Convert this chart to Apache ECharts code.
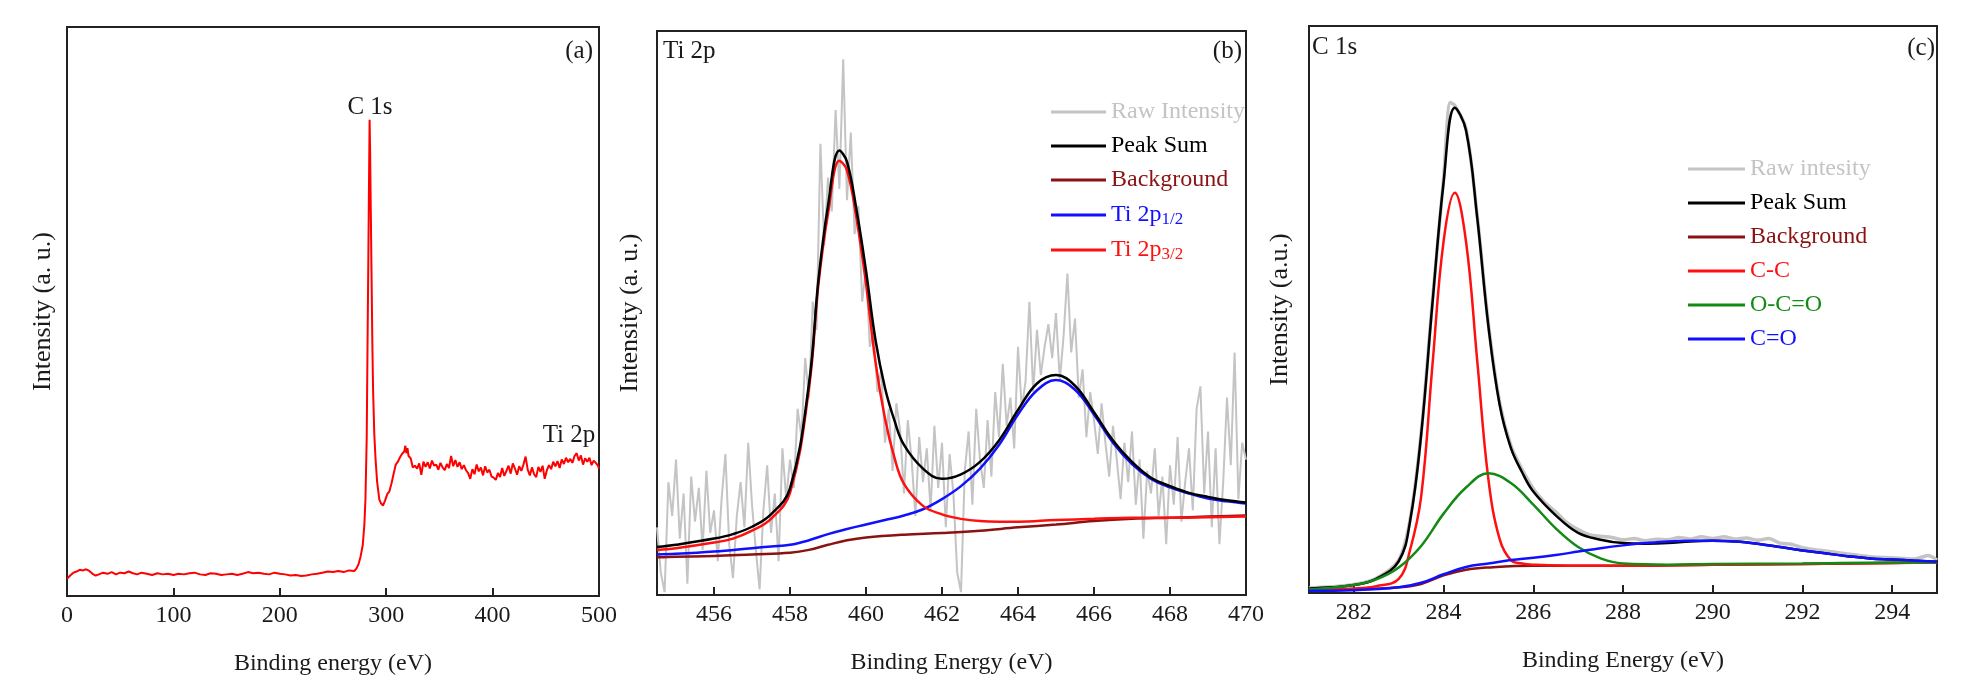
<!DOCTYPE html>
<html>
<head>
<meta charset="utf-8">
<script src="https://cdn.jsdelivr.net/npm/echarts@6/dist/echarts.min.js"></script>
<style>
html,body{margin:0;padding:0;background:#fff;}
#chart{width:1970px;height:683px;}
</style>
</head>
<body>
<div id="chart"></div>
<script>
// ---------------- DATA ----------------
// Panel (a): survey spectrum [binding energy eV, intensity a.u.]
const surveyPoints = [
[0,3.0],[3,3.6],[6,4.1],[9,4.3],[12,4.6],[15,4.5],[18,4.7],[21,4.4],[24,3.9],[27,3.6],
[30,3.8],[34,4.1],[38,3.9],[42,4.2],[46,3.8],[50,4.1],[54,4.0],[58,4.3],[62,4.0],[66,3.8],
[70,4.1],[75,3.9],[80,3.7],[85,4.0],[90,3.8],[95,3.9],[100,3.7],[105,3.9],[110,3.8],[115,4.0],
[120,4.1],[125,3.8],[130,3.7],[135,4.0],[140,3.9],[145,3.7],[150,3.8],[155,3.9],[160,3.7],[165,3.9],
[170,4.2],[175,4.0],[180,4.1],[185,3.9],[190,3.8],[195,4.1],[200,3.9],[205,3.8],[210,3.6],[215,3.7],
[220,3.5],[225,3.6],[230,3.8],[235,3.9],[240,4.1],[245,4.3],[250,4.2],[255,4.4],[260,4.2],[265,4.5],
[270,4.4],[272,4.8],[274,5.6],[276,7.0],[278,9.0],[279.5,12.6],[280.5,17],[281.7,28],[282.5,45],[283.2,59],
[283.8,72],[284.4,83.7],[284.9,78],[285.5,68],[286.2,57],[287,44],[287.7,36],[288.8,28.5],[290,24],[291.5,20],
[293.5,17],[295,16.3],[297,15.9],[299,16.8],[301,17.9],[303,18.4],[305,19.8],[307,21.5],[309,23.1],[311,23.6],
[313,24.4],[315,25.0],[317,25.4],[318,26.4],[319,25.1],[320,26.0],[321,24.6],[323,24.2],[325,22.6],[327,22.9],
[329,22.4],[331,23.3],[333,21.3],[335,23.6],[337,22.7],[339,23.5],[341,22.4],[343,23.8],[345,22.9],[347,23.1],
[349,22.2],[351,23.4],[353,22.6],[355,22.1],[357,23.2],[359,22.5],[361,24.6],[363,22.8],[365,23.9],[367,22.7],
[369,23.5],[371,22.3],[373,23.0],[375,22.1],[377,21.6],[379,20.6],[381,22.3],[383,21.4],[385,23.1],[387,21.9],
[389,22.6],[391,21.2],[393,22.8],[395,21.7],[397,22.2],[399,21.0],[401,20.8],[403,20.4],[405,21.6],[407,20.9],
[409,22.5],[411,21.1],[413,22.0],[415,22.9],[417,21.5],[419,23.3],[421,22.4],[423,21.3],[425,22.8],[427,22.0],
[429,23.1],[431,24.5],[433,22.2],[435,21.2],[437,22.6],[439,21.4],[441,20.9],[443,22.7],[445,21.8],[447,22.9],
[449,20.6],[451,22.1],[453,23.0],[455,22.3],[457,23.6],[459,22.8],[461,23.7],[463,22.5],[465,24.0],[467,23.2],
[469,24.3],[471,23.5],[473,24.1],[475,23.4],[477,24.6],[479,25.1],[481,23.8],[483,24.7],[485,23.1],[487,24.2],
[489,23.6],[491,24.3],[493,23.0],[495,23.8],[497,23.4],[499,22.9],[500,22.4]
];

// Panel (b): Ti 2p
const tiRaw = [
[454.5,12],[454.6,4],[454.7,0.5],[454.8,20],[454.9,14],[455.0,24],[455.1,10],[455.2,18],[455.3,2],[455.4,21],
[455.5,13],[455.6,19],[455.7,8],[455.8,22],[455.9,11],[456.0,15],[456.1,6],[456.2,17],[456.3,25],[456.4,9],
[456.5,3],[456.6,14],[456.7,20],[456.8,12],[456.9,27],[457.0,16],[457.1,8],[457.2,1],[457.3,15],[457.4,23],
[457.5,11],[457.6,18],[457.7,6],[457.8,26],[457.9,17],[458.0,24],[458.1,19],[458.2,33],[458.3,28],[458.4,42],
[458.5,35],[458.6,52],[458.7,47],[458.8,80],[458.9,62],[459.0,74],[459.1,68],[459.2,86],[459.3,72],[459.4,95],
[459.5,70],[459.6,82],[459.7,64],[459.8,69],[459.9,52],[460.0,58],[460.1,44],[460.2,47],[460.3,36],[460.4,40],
[460.5,27],[460.6,33],[460.7,22],[460.8,34],[460.9,29],[461.0,18],[461.1,31],[461.2,24],[461.3,14],[461.4,28],
[461.5,20],[461.6,26],[461.7,15],[461.8,30],[461.9,19],[462.0,27],[462.1,12],[462.2,25],[462.3,18],[462.4,4],
[462.5,0.5],[462.6,22],[462.7,29],[462.8,16],[462.9,33],[463.0,24],[463.1,19],[463.2,31],[463.3,21],[463.4,36],
[463.5,28],[463.6,41],[463.7,30],[463.8,35],[463.9,26],[464.0,44],[464.1,33],[464.2,38],[464.3,52],[464.4,36],
[464.5,47],[464.6,39],[464.7,44],[464.8,48],[464.9,42],[465.0,50],[465.1,38],[465.2,46],[465.3,57],[465.4,43],
[465.5,49],[465.6,35],[465.7,40],[465.8,28],[465.9,36],[466.0,31],[466.1,25],[466.2,34],[466.3,27],[466.4,21],
[466.5,30],[466.6,24],[466.7,17],[466.8,27],[466.9,20],[467.0,29],[467.1,16],[467.2,24],[467.3,10],[467.4,22],
[467.5,18],[467.6,26],[467.7,14],[467.8,21],[467.9,9],[468.0,23],[468.1,16],[468.2,28],[468.3,13],[468.4,20],
[468.5,26],[468.6,15],[468.7,33],[468.8,37],[468.9,18],[469.0,29],[469.1,12],[469.2,26],[469.3,9],[469.4,20],
[469.5,35],[469.6,23],[469.7,43],[469.8,17],[469.9,27],[470.0,24]
];
const tiPeakSum = [
[454.5,8.5],[455,8.9],[456,10.0],[456.5,10.8],[457,12.1],[457.5,14.3],[458,18.9],[458.5,37.5],[458.75,56],[459,69],
[459.3,78.8],[459.5,76.8],[459.75,68.3],[460,57.5],[460.25,45.2],[460.5,36.7],[460.75,30.9],[461,26.6],[461.5,22.4],[462,20.6],
[462.5,21.4],[463,23.6],[463.5,27.4],[464,32.8],[464.5,37.5],[465,39.0],[465.5,37.1],[466,32.4],[466.5,27.4],[467,23.6],
[467.5,20.8],[468,19.3],[468.5,18.1],[469,17.4],[469.5,16.8],[470,16.4]
];
const tiBackground = [
[454.5,6.7],[455,6.8],[456,6.9],[457,7.2],[458,7.5],[458.5,8.0],[459,8.9],[459.5,9.7],[460,10.2],[461,10.7],
[462,11.0],[463,11.4],[464,12.0],[465,12.5],[466,13.1],[467,13.5],[468,13.7],[469,13.9],[470,14.1]
];
const ti2p12 = [
[454.5,7.2],[455,7.3],[456,7.7],[457,8.3],[457.5,8.6],[458,8.9],[458.5,9.7],[459,10.8],[459.5,11.7],[460,12.5],
[460.5,13.3],[461,14.1],[461.5,15.2],[462,17.0],[462.5,19.3],[463,22.4],[463.5,26.6],[464,32.0],[464.5,36.3],[465,38.1],
[465.5,36.4],[466,32.0],[466.5,27.0],[467,23.2],[467.5,20.6],[468,19.1],[468.5,18.0],[469,17.1],[469.5,16.6],[470,16.2]
];
const ti2p32 = [
[454.5,8.0],[455,8.3],[456,9.3],[456.5,10.0],[457,11.4],[457.5,13.5],[458,18.1],[458.5,36.7],[458.75,55.2],[459,67.6],
[459.3,77.0],[459.5,75.3],[459.75,66.8],[460,55.2],[460.25,41.3],[460.5,31.3],[460.75,24.3],[461,19.7],[461.5,15.8],[462,14.3],
[462.5,13.5],[463,13.1],[463.5,13.0],[464,13.0],[465,13.3],[466,13.5],[467,13.7],[468,13.7],[469,13.8],[470,13.9]
];

// Panel (c): C 1s
const cRaw = [
[281,0.9],[281.5,1.1],[282,1.5],[282.5,2.6],[283,5.8],[283.25,12.8],[283.5,28.2],[283.75,51.4],[284,73.0],[284.15,86.5],
[284.25,86.0],[284.5,81.9],[284.75,66.5],[285,47.4],[285.25,33.6],[285.5,26.0],[285.75,21.8],[286,18.4],[286.25,16.0],[286.5,14.3],
[286.75,12.4],[287,11.2],[287.25,10.3],[287.5,10.0],[287.75,9.8],[288,9.4],[288.25,9.6],[288.5,9.2],[288.75,9.5],[289,9.4],
[289.25,9.8],[289.5,9.5],[289.75,9.9],[290,9.6],[290.25,9.9],[290.5,9.5],[290.75,9.7],[291,9.3],[291.25,9.6],[291.5,8.8],
[291.75,8.6],[292,8.0],[292.5,7.4],[293,6.9],[293.5,6.4],[294,6.2],[294.5,6.0],[294.8,6.6],[295,5.8]
];
const cPeakSum = [
[281,0.8],[281.5,1.0],[282,1.4],[282.5,2.5],[283,5.6],[283.25,12.5],[283.5,27.9],[283.75,50.9],[284,72.4],[284.25,85.6],
[284.5,81.6],[284.75,66.2],[285,47.0],[285.25,33.2],[285.5,25.6],[285.75,21.3],[286,17.9],[286.5,13.7],[287,10.6],[287.5,9.4],
[288,8.8],[288.5,8.7],[289,8.8],[289.5,9.1],[290,9.2],[290.5,9.1],[291,8.7],[291.5,8.1],[292,7.5],[292.5,7.0],
[293,6.5],[293.5,6.1],[294,5.9],[294.5,5.7],[295,5.5]
];
const cBackground = [
[281,0.5],[282,0.6],[283,1.0],[283.5,1.6],[284,3.1],[284.5,4.1],[285,4.5],[286,4.8],[288,4.8],[290,5.0],
[292,5.1],[294,5.3],[295,5.4]
];
const cCC = [
[281,0.6],[282,0.8],[282.5,1.2],[283,2.5],[283.25,7.5],[283.5,17],[283.75,40],[284,62],[284.25,70.6],[284.5,62],
[284.75,41],[285,20],[285.25,9.5],[285.5,5.8],[285.75,5.2],[286,5.0],[287,4.8],[288,4.8],[290,5.0],[292,5.1],[295,5.4]
];
const cOCO = [
[281,0.6],[282,1.4],[282.5,2.4],[283,4.5],[283.5,8.3],[284,14.0],[284.5,18.6],[285,21.1],[285.5,19.4],[286,15.6],
[286.5,11.4],[287,8.1],[287.5,6.1],[288,5.2],[289,5.0],[290,5.1],[292,5.2],[294,5.4],[295,5.4]
];
const cCO = [
[281,0.4],[282,0.5],[283,1.0],[283.5,1.8],[284,3.3],[284.5,4.6],[285,5.2],[285.5,5.8],[286,6.2],[286.5,6.7],
[287,7.3],[287.5,7.9],[288,8.4],[288.5,8.8],[289,9.1],[289.5,9.2],[290,9.2],[290.5,9.1],[291,8.7],[291.5,8.1],
[292,7.5],[292.5,7.0],[293,6.5],[293.5,6.1],[294,5.9],[294.5,5.7],[295,5.5]
];

// tick labels
const ticksA = [0,100,200,300,400,500];
const ticksB = [456,458,460,462,464,466,468,470];
const ticksC = [282,284,286,288,290,292,294];

// ---------------- CHART ----------------
const FONT = '"Liberation Serif", "Times New Roman", serif';
const TXT = '#1a1a1a';
const C_RAW = '#c4c4c4', C_SUM = '#000000', C_BG = '#8b1212', C_RED = '#ff1010', C_BLUE = '#1010ff', C_GREEN = '#138a13';

function xAxisFor(gi, min, max, ticks, name) {
  return {
    type: 'value', gridIndex: gi, min: min, max: max,
    name: name, nameLocation: 'middle', nameGap: 56,
    nameTextStyle: {fontFamily: FONT, fontSize: 24, color: TXT},
    axisLine: {show: false},
    axisTick: {show: true, inside: true, length: 8, customValues: ticks, lineStyle: {color: '#222', width: 2}},
    axisLabel: {show: true, margin: 8, customValues: ticks, fontFamily: FONT, fontSize: 24, color: TXT,
                showMinLabel: true, showMaxLabel: true},
    splitLine: {show: false}
  };
}
function yAxisFor(gi, name, gap) {
  return {
    type: 'value', gridIndex: gi, min: 0, max: 100,
    name: name, nameLocation: 'middle', nameGap: gap,
    nameTextStyle: {fontFamily: FONT, fontSize: 26, color: TXT},
    axisLine: {show: false}, axisTick: {show: false}, axisLabel: {show: false}, splitLine: {show: false}
  };
}
function line(name, data, xi, color, width, smooth, z) {
  return {
    type: 'line', name: name, data: data, xAxisIndex: xi, yAxisIndex: xi,
    symbol: 'none', showSymbol: false, smooth: smooth, clip: true, z: z,
    lineStyle: {color: color, width: width}, itemStyle: {color: color},
    emphasis: {disabled: true}
  };
}

const gridStyle = {show: true, borderColor: '#222', borderWidth: 2, backgroundColor: 'transparent', containLabel: false};

function legendText() {
  return {fontFamily: FONT, fontSize: 24, lineHeight: 26,
    rich: {
      sb: {fontFamily: FONT, fontSize: 17, color: C_BLUE, lineHeight: 16, verticalAlign: 'bottom', padding: [10, 0, 0, 0]},
      sr: {fontFamily: FONT, fontSize: 17, color: C_RED, lineHeight: 16, verticalAlign: 'bottom', padding: [10, 0, 0, 0]}
    }
  };
}

const option = {
  animation: false,
  backgroundColor: '#ffffff',
  grid: [
    Object.assign({left: 67, top: 27, width: 532, height: 569}, gridStyle),
    Object.assign({left: 657, top: 31, width: 589, height: 564}, gridStyle),
    Object.assign({left: 1309, top: 26, width: 628, height: 567}, gridStyle)
  ],
  xAxis: [
    xAxisFor(0, 0, 500, ticksA, 'Binding energy (eV)'),
    xAxisFor(1, 454.5, 470, ticksB, 'Binding Energy (eV)'),
    xAxisFor(2, 281, 295, ticksC, 'Binding Energy (eV)')
  ],
  yAxis: [
    yAxisFor(0, 'Intensity (a. u.)', 11),
    yAxisFor(1, 'Intensity (a. u.)', 14),
    yAxisFor(2, 'Intensity (a.u.)', 16)
  ],
  legend: [
    {
      left: 1051, top: 99, orient: 'vertical', padding: 0, itemWidth: 55, itemHeight: 3, itemGap: 8,
      selectedMode: false, icon: 'rect',
      textStyle: legendText(),
      formatter: function (n) {
        if (n === 'Ti 2p1/2') return 'Ti 2p{sb|1/2}';
        if (n === 'Ti 2p3/2') return 'Ti 2p{sr|3/2}';
        return n;
      },
      data: [
        {name: 'Raw Intensity', textStyle: {color: C_RAW}},
        {name: 'Peak Sum', textStyle: {color: C_SUM}},
        {name: 'Background', textStyle: {color: C_BG}},
        {name: 'Ti 2p1/2', textStyle: {color: C_BLUE}},
        {name: 'Ti 2p3/2', textStyle: {color: C_RED}}
      ]
    },
    {
      left: 1688, top: 156, orient: 'vertical', padding: 0, itemWidth: 57, itemHeight: 3, itemGap: 8,
      selectedMode: false, icon: 'rect',
      textStyle: legendText(),
      data: [
        {name: 'Raw intesity', textStyle: {color: C_RAW}},
        {name: 'Peak Sum', textStyle: {color: C_SUM}},
        {name: 'Background', textStyle: {color: C_BG}},
        {name: 'C-C', textStyle: {color: C_RED}},
        {name: 'O-C=O', textStyle: {color: C_GREEN}},
        {name: 'C=O', textStyle: {color: C_BLUE}}
      ]
    }
  ],
  series: [
    line('Survey', surveyPoints, 0, '#ff0000', 2, false, 2),

    line('Raw Intensity', tiRaw, 1, C_RAW, 2, false, 1),
    line('Background', tiBackground, 1, C_BG, 2.5, 0.4, 2),
    line('Ti 2p1/2', ti2p12, 1, C_BLUE, 2.5, 0.4, 3),
    line('Ti 2p3/2', ti2p32, 1, C_RED, 2.5, 0.4, 4),
    line('Peak Sum', tiPeakSum, 1, C_SUM, 2.5, 0.4, 5),

    line('Raw intesity', cRaw, 2, C_RAW, 3.5, 0.3, 1),
    line('Peak Sum', cPeakSum, 2, C_SUM, 2.5, 0.4, 2),
    line('Background', cBackground, 2, C_BG, 2.5, 0.4, 3),
    line('C-C', cCC, 2, C_RED, 2.5, 0.4, 4),
    line('O-C=O', cOCO, 2, C_GREEN, 2.5, 0.4, 5),
    line('C=O', cCO, 2, C_BLUE, 2.5, 0.4, 6)
  ],
  graphic: [
    {type: 'text', z: 100, style: {x: 593, y: 51, text: '(a)', font: '25px ' + FONT, fill: TXT, textAlign: 'right', textVerticalAlign: 'middle'}},
    {type: 'text', z: 100, style: {x: 370, y: 107, text: 'C 1s', font: '25px ' + FONT, fill: TXT, textAlign: 'center', textVerticalAlign: 'middle'}},
    {type: 'text', z: 100, style: {x: 569, y: 435, text: 'Ti 2p', font: '25px ' + FONT, fill: TXT, textAlign: 'center', textVerticalAlign: 'middle'}},
    {type: 'text', z: 100, style: {x: 663, y: 51, text: 'Ti 2p', font: '25px ' + FONT, fill: TXT, textAlign: 'left', textVerticalAlign: 'middle'}},
    {type: 'text', z: 100, style: {x: 1242, y: 51, text: '(b)', font: '25px ' + FONT, fill: TXT, textAlign: 'right', textVerticalAlign: 'middle'}},
    {type: 'text', z: 100, style: {x: 1312, y: 47, text: 'C 1s', font: '25px ' + FONT, fill: TXT, textAlign: 'left', textVerticalAlign: 'middle'}},
    {type: 'text', z: 100, style: {x: 1935, y: 48, text: '(c)', font: '25px ' + FONT, fill: TXT, textAlign: 'right', textVerticalAlign: 'middle'}}
  ]
};

const chart = echarts.init(document.getElementById('chart'), null, {renderer: 'canvas'});
chart.setOption(option);
</script>
</body>
</html>
